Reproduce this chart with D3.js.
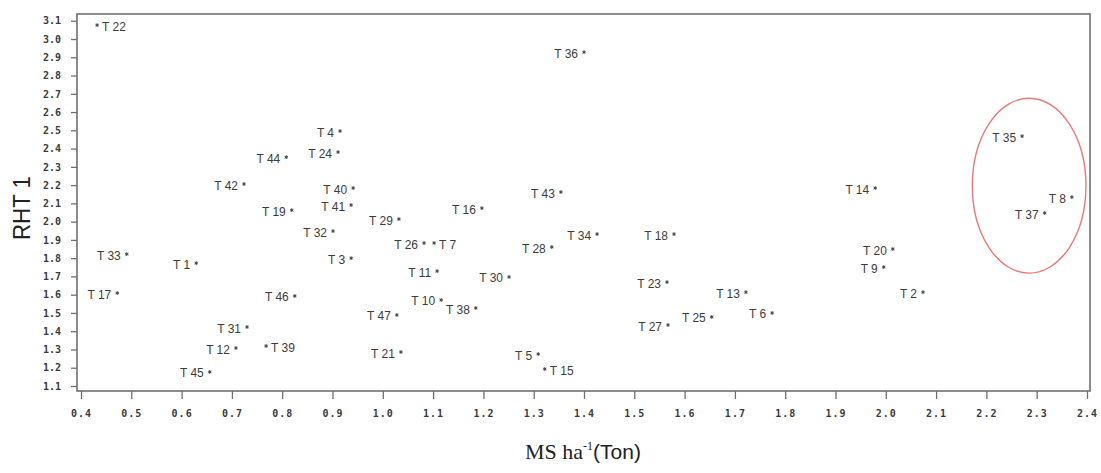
<!DOCTYPE html>
<html>
<head>
<meta charset="utf-8">
<script src="https://cdn.jsdelivr.net/npm/d3@7"></script>
<style>
  body { margin: 0; background: #fff; }
  #chart { width: 1101px; height: 473px; }
  .tickLabel { font-family: "DejaVu Sans Mono", monospace; font-weight: bold; font-size: 10px; fill: #3a3a3a; }
  .ptLabel { font-family: "Liberation Sans", Arial, sans-serif; font-size: 12px; fill: #3c3c3c; }
</style>
</head>
<body>
<div id="chart"></div>
<script>
// treatment names, x = MS ha-1 (Ton), y = RHT 1, label side
var names = ["T 1","T 2","T 3","T 4","T 5","T 6","T 7","T 8","T 9","T 10",
             "T 11","T 12","T 13","T 14","T 15","T 16","T 17","T 18","T 19","T 20",
             "T 21","T 22","T 23","T 24","T 25","T 26","T 27","T 28","T 29","T 30",
             "T 31","T 32","T 33","T 34","T 35","T 36","T 37","T 38","T 39","T 40",
             "T 41","T 42","T 43","T 44","T 45","T 46","T 47"];
var msValues = [0.629, 2.074, 0.937, 0.915, 1.309, 1.774, 1.102, 2.370, 1.996, 1.116,
                1.108, 0.708, 1.722, 1.979, 1.322, 1.197, 0.472, 1.579, 0.819, 2.014,
                1.036, 0.432, 1.565, 0.911, 1.654, 1.082, 1.567, 1.336, 1.032, 1.251,
                0.730, 0.901, 0.491, 1.426, 2.271, 1.400, 2.316, 1.185, 0.768, 0.941,
                0.937, 0.724, 1.354, 0.808, 0.656, 0.825, 1.028];
var rhtValues = [1.773, 1.614, 1.800, 2.496, 1.275, 1.500, 1.883, 2.134, 1.751, 1.571,
                 1.729, 1.308, 1.614, 2.184, 1.193, 2.074, 1.609, 1.932, 2.063, 1.850,
                 1.286, 3.076, 1.669, 2.381, 1.478, 1.883, 1.434, 1.861, 2.014, 1.697,
                 1.423, 1.948, 1.822, 1.932, 2.468, 2.928, 2.047, 1.527, 1.319, 2.184,
                 2.091, 2.206, 2.162, 2.353, 1.177, 1.593, 1.489];
var labelRight = ["T 7", "T 15", "T 22", "T 39"];

var xTicks = [0.4,0.5,0.6,0.7,0.8,0.9,1.0,1.1,1.2,1.3,1.4,1.5,1.6,1.7,1.8,1.9,2.0,2.1,2.2,2.3,2.4];
var yTicks = [1.1,1.2,1.3,1.4,1.5,1.6,1.7,1.8,1.9,2.0,2.1,2.2,2.3,2.4,2.5,2.6,2.7,2.8,2.9,3.0,3.1];

// highlighted group (T 35, T 8, T 37): centre and radii in data units
var ellipseCenter = [2.285, 2.197];
var ellipseRadius = [0.113, 0.479];

var width = 1101, height = 473;
var margin = {top: 14, left: 77, right: 11, bottom: 82};

var svg = d3.select("#chart")
    .append("svg")
    .attr("width", width)
    .attr("height", height);

var data = names.map(function(n, i) {
    return {name: n, x: msValues[i], y: rhtValues[i]};
});

var xScale = d3.scaleLinear()
    .domain([0.392, 2.406])
    .range([margin.left, width - margin.right]);

var yScale = d3.scaleLinear()
    .domain([1.0726, 3.137])
    .range([height - margin.bottom, margin.top]);

// frame
svg.append("rect")
    .attr("x", margin.left)
    .attr("y", margin.top)
    .attr("width", width - margin.left - margin.right)
    .attr("height", height - margin.top - margin.bottom)
    .attr("fill", "none")
    .attr("stroke", "#707070")
    .attr("stroke-width", 1.6);

var xAxis = svg.append("g")
    .attr("transform", `translate(0,${height - margin.bottom})`)
    .call(d3.axisBottom(xScale).tickValues(xTicks).tickFormat(d3.format(".1f")).tickSize(8).tickPadding(11));

var yAxis = svg.append("g")
    .attr("transform", `translate(${margin.left},0)`)
    .call(d3.axisLeft(yScale).tickValues(yTicks).tickFormat(d3.format(".1f")).tickSize(6).tickPadding(10));

[xAxis, yAxis].forEach(function(ax) {
    ax.select(".domain").remove();
    ax.selectAll("line").attr("stroke", "#707070").attr("stroke-width", 1.3);
    ax.selectAll("text").attr("class", "tickLabel").attr("font-family", null).attr("font-size", null).attr("fill", null);
});
xAxis.selectAll("text").attr("letter-spacing", "1px");

// ellipse
svg.append("ellipse")
    .attr("cx", xScale(ellipseCenter[0]))
    .attr("cy", yScale(ellipseCenter[1]))
    .attr("rx", xScale(ellipseCenter[0] + ellipseRadius[0]) - xScale(ellipseCenter[0]))
    .attr("ry", yScale(ellipseCenter[1]) - yScale(ellipseCenter[1] + ellipseRadius[1]))
    .attr("fill", "none")
    .attr("stroke", "#ee7777")
    .attr("stroke-width", 1.4);

var points = svg.selectAll(".pt")
    .data(data)
    .enter()
    .append("path")
        .attr("class", "pt")
        .attr("d", d3.symbol(d3.symbolAsterisk).size(10))
        .attr("transform", function(d) { return `translate(${xScale(d.x)},${yScale(d.y)})`; })
        .attr("stroke", "#444")
        .attr("stroke-width", 1)
        .attr("fill", "none");

var labels = svg.selectAll(".ptLabel")
    .data(data)
    .enter()
    .append("text")
        .attr("class", "ptLabel")
        .attr("x", function(d) {
            return labelRight.indexOf(d.name) >= 0 ? xScale(d.x) + 5 : xScale(d.x) - 6;
        })
        .attr("y", function(d) { return yScale(d.y) + 5.5; })
        .attr("text-anchor", function(d) { return labelRight.indexOf(d.name) >= 0 ? "start" : "end"; })
        .text(function(d) { return d.name; });

// axis titles
var xAxisLabel = svg.append("text")
    .attr("x", 525)
    .attr("y", 459)
    .attr("fill", "#222");
xAxisLabel.append("tspan")
    .attr("font-family", "Liberation Serif, Times New Roman, serif")
    .attr("font-size", 22)
    .text("MS ha");
xAxisLabel.append("tspan")
    .attr("font-family", "Liberation Serif, Times New Roman, serif")
    .attr("font-size", 12)
    .attr("dy", -9)
    .text("-1");
xAxisLabel.append("tspan")
    .attr("font-family", "Liberation Sans Narrow, Liberation Sans, Arial, sans-serif")
    .attr("font-size", 21)
    .attr("dy", 9)
    .text("(Ton)");

var yAxisLabel = svg.append("text")
    .attr("transform", "rotate(-90)")
    .attr("x", -208)
    .attr("y", 30)
    .attr("text-anchor", "middle")
    .attr("font-family", "Liberation Sans, Arial, sans-serif")
    .attr("font-size", 23)
    .attr("textLength", 64)
    .attr("lengthAdjust", "spacingAndGlyphs")
    .attr("fill", "#222")
    .text("RHT 1");
</script>
</body>
</html>
